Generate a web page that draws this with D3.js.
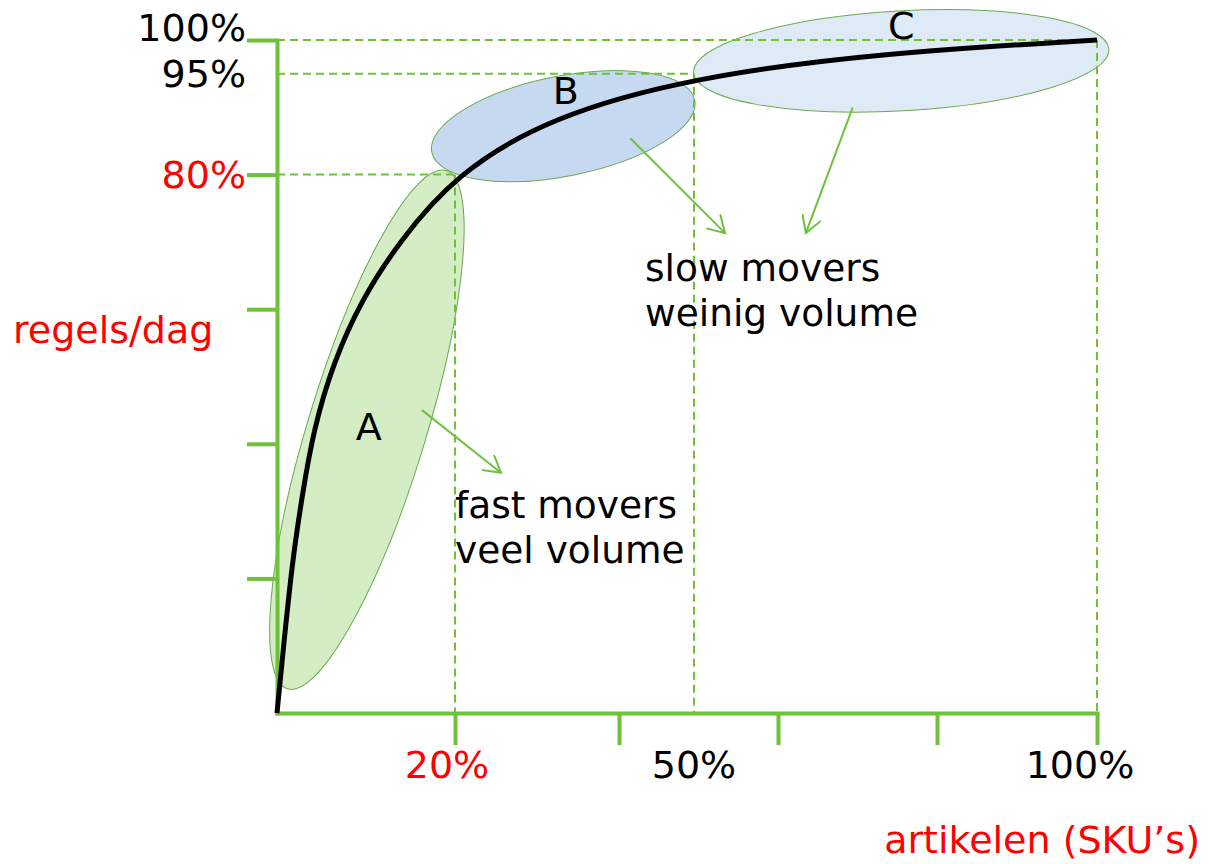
<!DOCTYPE html>
<html>
<head>
<meta http-equiv="Content-Type" content="text/html;charset=utf-8"/>
<script src="https://d3js.org/d3.v7.min.js"></script>
<style type="text/css">
body { margin: 0; background: #fff; }
svg text { font-family: "DejaVu Sans", Verdana, sans-serif; font-size: 38px; }
svg text.desc { font-size: 37.5px; }
.axis path, .axis line { stroke: #6dc23a; stroke-width: 4; }
.guide { stroke: #6dc23a; stroke-width: 2; stroke-dasharray: 8,5; fill: none; }
.arrow { stroke: #6dc23a; stroke-width: 2; fill: none; }
.curve { stroke: #000; stroke-width: 5; fill: none; }
</style>
</head>
<body>
<script>
// Pareto curve: % of SKUs (x) against cumulative % of order lines (y)
var skuPct   = [0, 0.7, 1.7, 2.8, 4.1, 6.3, 9.5, 13.6, 20, 31.6, 50, 73, 100];
var linesPct = [0, 9.4, 22.3, 32.1, 42.1, 52.0, 61.4, 69.8, 80, 88.6, 94.5, 98.1, 100];

// class boundaries A / B / C
var classes = ["A", "B", "C"];
var boundX = [20, 50, 100];
var boundY = [80, 95, 100];
var tickVals = [20, 40, 60, 80, 100];

var descA = ["fast movers", "veel volume"];
var descBC = ["slow movers", "weinig volume"];
var yTitle = "regels/dag";
var xTitle = "artikelen (SKU\u2019s)";

var width = 1209,
    height = 864;

var x = d3.scaleLinear()
          .domain([0, 20, 40, 50, 60, 80, 100])
          .range([277, 455, 619, 694, 778, 937, 1097]);

var y = d3.scaleLinear()
          .domain([0, 100])
          .range([713, 40]);

var svg = d3.select("body")
            .append("svg")
            .attr("width", width)
            .attr("height", height);

svg.append("defs").append("marker")
   .attr("id", "head")
   .attr("viewBox", "0 0 20 20")
   .attr("markerUnits", "userSpaceOnUse")
   .attr("markerWidth", 20)
   .attr("markerHeight", 20)
   .attr("refX", 17)
   .attr("refY", 10)
   .attr("orient", "auto")
   .append("path")
   .attr("d", "M0,0 L17,10 L0,20")
   .attr("class", "arrow");

// ellipses round the three groups (center in data units, radii in px)
var blobs = [
    { cx: x(10.1), cy: y(42.1), rx: 271, ry: 59, rot: -73, fill: "#d5edc5" },
    { cx: x(33.2), cy: y(87.2), rx: 134, ry: 50, rot: -11.2, fill: "#c6d9f0" },
    { cx: x(75.5), cy: y(96.9), rx: 208, ry: 50, rot: -3.2, fill: "#dfeaf7" }
];

svg.append("g")
   .selectAll("ellipse")
   .data(blobs)
   .enter()
   .append("ellipse")
   .attr("rx", function(d) { return d.rx; })
   .attr("ry", function(d) { return d.ry; })
   .attr("transform", function(d) { return "translate(" + d.cx + "," + d.cy + ") rotate(" + d.rot + ")"; })
   .style("fill", function(d) { return d.fill; })
   .style("stroke", "#6aa84f")
   .style("stroke-width", 1);

// dashed guides from the curve to both axes
var guides = svg.append("g");
boundX.forEach(function(bx, i) {
    guides.append("line").attr("class", "guide")
          .attr("x1", x(0)).attr("x2", x(bx))
          .attr("y1", y(boundY[i])).attr("y2", y(boundY[i]));
    guides.append("line").attr("class", "guide")
          .attr("x1", x(bx)).attr("x2", x(bx))
          .attr("y1", y(boundY[i])).attr("y2", y(0));
});

// axes
svg.append("g")
   .attr("class", "axis")
   .attr("transform", "translate(" + x(0) + ",0)")
   .call(d3.axisLeft(y).tickValues(tickVals).tickSize(30).tickSizeOuter(0).tickFormat(""));

svg.append("g")
   .attr("class", "axis")
   .attr("transform", "translate(0," + y(0) + ")")
   .call(d3.axisBottom(x).tickValues(tickVals).tickSize(32).tickSizeOuter(0).tickFormat(""));

svg.selectAll(".axis .domain").attr("stroke-linecap", "square");

// curve
var line = d3.line()
             .x(function(d) { return x(d[0]); })
             .y(function(d) { return y(d[1]); })
             .curve(d3.curveBasis);

svg.append("path")
   .datum(d3.zip(skuPct, linesPct))
   .attr("class", "curve")
   .attr("d", line);

// arrows from the ellipses to the descriptions
var arrows = [
    [[x(16.3), y(45.0)], [x(25.6), y(35.7)]],
    [[x(41.5), y(85.4)], [x(53.7), y(71.3)]],
    [[x(69.4), y(90.0)], [x(63.5), y(71.3)]]
];

svg.append("g")
   .selectAll("path")
   .data(arrows)
   .enter()
   .append("path")
   .attr("class", "arrow")
   .attr("d", function(d) { return "M" + d[0] + "L" + d[1]; })
   .attr("marker-end", "url(#head)");

// y labels
svg.append("g")
   .selectAll("text")
   .data(boundY)
   .enter()
   .append("text")
   .attr("x", 246)
   .attr("y", function(d, i) { return y(d) + (i === 2 ? 1 : 13); })
   .attr("text-anchor", "end")
   .style("fill", function(d, i) { return i === 0 ? "#ff0000" : "#000"; })
   .text(function(d) { return d + "%"; });

// x labels
svg.append("g")
   .selectAll("text")
   .data(boundX)
   .enter()
   .append("text")
   .attr("x", function(d, i) { return x(d) + (i === 0 ? -8 : (i === 2 ? -17 : 0)); })
   .attr("y", 778)
   .attr("text-anchor", "middle")
   .style("fill", function(d, i) { return i === 0 ? "#ff0000" : "#000"; })
   .text(function(d) { return d + "%"; });

// axis titles
svg.append("text")
   .attr("x", 13).attr("y", 343)
   .style("fill", "#ff0000")
   .text(yTitle);

svg.append("text")
   .attr("x", 1200).attr("y", 853)
   .attr("text-anchor", "end")
   .style("fill", "#ff0000")
   .text(xTitle);

// class letters
var letterPos = [[x(10.3), y(40.5)], [x(33.5), y(90.5)], [x(75.5), y(100.1)]];
svg.append("g")
   .selectAll("text")
   .data(classes)
   .enter()
   .append("text")
   .attr("x", function(d, i) { return letterPos[i][0]; })
   .attr("y", function(d, i) { return letterPos[i][1]; })
   .attr("text-anchor", "middle")
   .text(function(d) { return d; });

// descriptions
function block(lines, px, py) {
    var t = svg.append("text").attr("class", "desc").attr("x", px).attr("y", py);
    lines.forEach(function(s, i) {
        t.append("tspan").attr("x", px).attr("dy", i === 0 ? 0 : 45).text(s);
    });
}
block(descA, 455, 518);
block(descBC, 645, 281);
</script>
</body>
</html>
